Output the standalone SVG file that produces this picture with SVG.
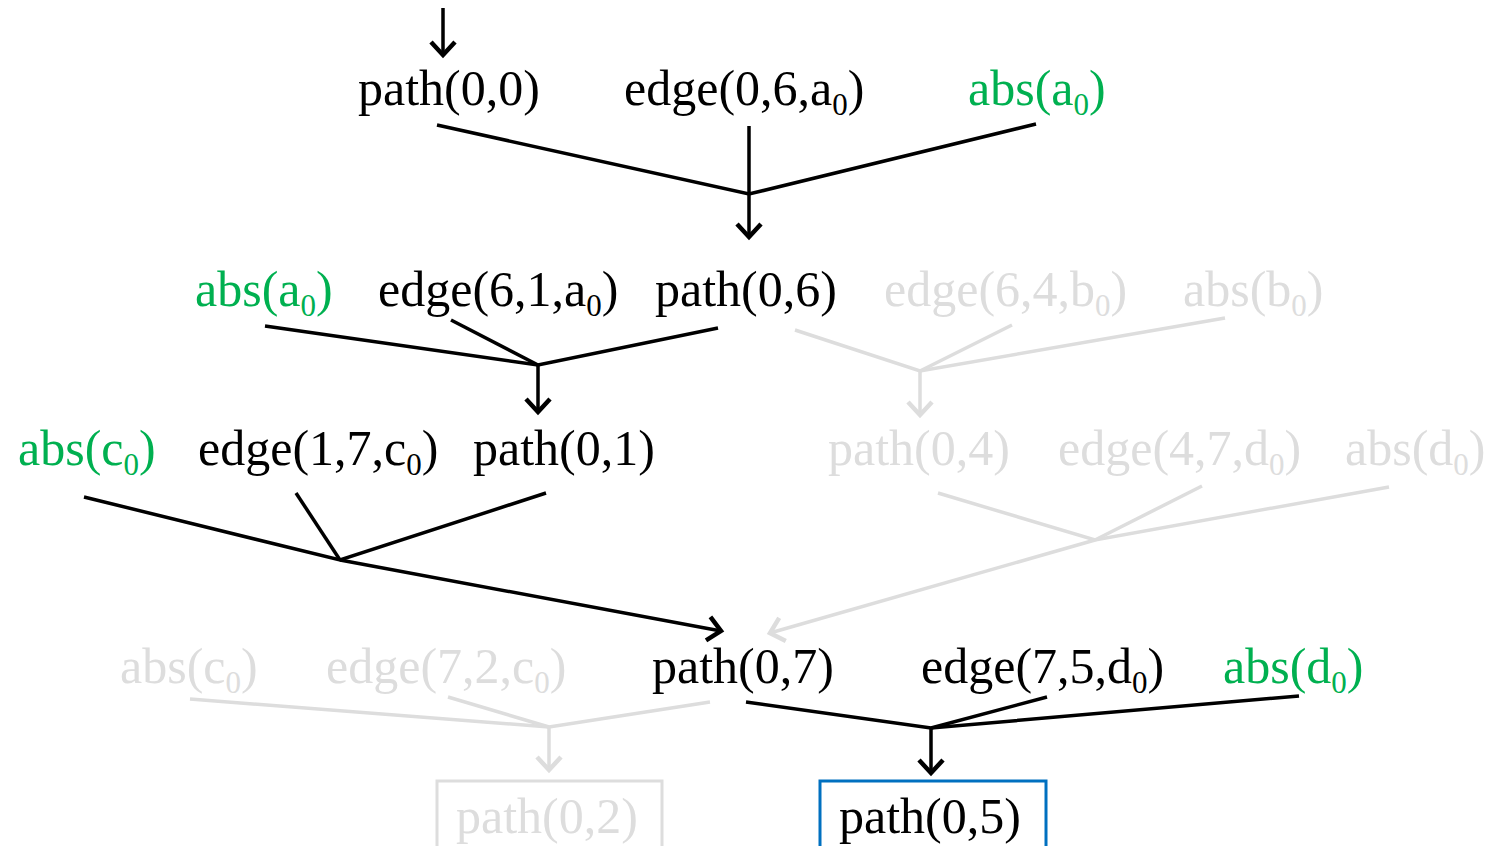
<svg xmlns="http://www.w3.org/2000/svg" width="1491" height="846" viewBox="0 0 1491 846">
<defs>
<marker id="ah" viewBox="-16 -16 20 32" markerWidth="20" markerHeight="32" refX="0" refY="0" orient="auto" markerUnits="userSpaceOnUse">
<path d="M-13,-12 L0,0 L-13,12" fill="none" stroke="#000" stroke-width="4.5"/>
</marker>
<marker id="ahg" viewBox="-16 -16 20 32" markerWidth="20" markerHeight="32" refX="0" refY="0" orient="auto" markerUnits="userSpaceOnUse">
<path d="M-13,-12 L0,0 L-13,12" fill="none" stroke="#DDDDDD" stroke-width="4.5"/>
</marker>
</defs>
<style>
text{font-family:"Liberation Serif","Times New Roman",serif;font-size:50px;fill:#000}
.g{fill:#00B050}
.l{fill:#DDDDDD}
.s{font-size:31px}
.k{stroke:#000;stroke-width:3.5;fill:none}
.q{stroke:#DDDDDD;stroke-width:3.5;fill:none}
</style>
<g id="connectors">
<line class="k" x1="443" y1="8" x2="443" y2="55" marker-end="url(#ah)"/>
<polyline class="k" points="437,125 749,194 1036,124"/>
<line class="k" x1="749" y1="126" x2="749" y2="237" marker-end="url(#ah)"/>
<polyline class="k" points="265,326 538,365 718,328"/>
<line class="k" x1="451" y1="320" x2="538" y2="365"/>
<line class="k" x1="538" y1="365" x2="538" y2="412" marker-end="url(#ah)"/>
<polyline class="q" points="795,330 920,371 1225,318"/>
<line class="q" x1="1012" y1="325" x2="920" y2="371"/>
<line class="q" x1="920" y1="371" x2="920" y2="415" marker-end="url(#ahg)"/>
<polyline class="k" points="84,497 340,560 546,493"/>
<line class="k" x1="296" y1="493" x2="340" y2="560"/>
<line class="k" x1="340" y1="560" x2="721" y2="631" marker-end="url(#ah)"/>
<polyline class="q" points="938,493 1095,540 1389,487"/>
<line class="q" x1="1202" y1="486" x2="1095" y2="540"/>
<line class="q" x1="1095" y1="540" x2="770" y2="633" marker-end="url(#ahg)"/>
<polyline class="q" points="190,699 549,727 710,702"/>
<line class="q" x1="448" y1="697" x2="549" y2="727"/>
<line class="q" x1="549" y1="727" x2="549" y2="770" marker-end="url(#ahg)"/>
<polyline class="k" points="746,702 931,728 1299,696"/>
<line class="k" x1="1047" y1="697" x2="931" y2="728"/>
<line class="k" x1="931" y1="728" x2="931" y2="773" marker-end="url(#ah)"/>
</g>
<g id="n-path00"><text x="358" y="105">path(0,0)</text></g>
<g id="n-edge06a"><text x="624" y="105">edge(0,6,a<tspan class="s" dy="10">0</tspan><tspan dy="-10">)</tspan></text></g>
<g id="n-absa-1"><text class="g" x="968" y="105">abs(a<tspan class="s" dy="10">0</tspan><tspan dy="-10">)</tspan></text></g>
<g id="n-absa-2"><text class="g" x="195" y="306">abs(a<tspan class="s" dy="10">0</tspan><tspan dy="-10">)</tspan></text></g>
<g id="n-edge61a"><text x="378" y="306">edge(6,1,a<tspan class="s" dy="10">0</tspan><tspan dy="-10">)</tspan></text></g>
<g id="n-path06"><text x="655" y="306">path(0,6)</text></g>
<g id="n-edge64b"><text class="l" x="884" y="306">edge(6,4,b<tspan class="s" dy="10">0</tspan><tspan dy="-10">)</tspan></text></g>
<g id="n-absb"><text class="l" x="1183" y="306">abs(b<tspan class="s" dy="10">0</tspan><tspan dy="-10">)</tspan></text></g>
<g id="n-absc-1"><text class="g" x="18" y="465">abs(c<tspan class="s" dy="10">0</tspan><tspan dy="-10">)</tspan></text></g>
<g id="n-edge17c"><text x="198" y="465">edge(1,7,c<tspan class="s" dy="10">0</tspan><tspan dy="-10">)</tspan></text></g>
<g id="n-path01"><text x="473" y="465">path(0,1)</text></g>
<g id="n-path04"><text class="l" x="828" y="465">path(0,4)</text></g>
<g id="n-edge47d"><text class="l" x="1058" y="465">edge(4,7,d<tspan class="s" dy="10">0</tspan><tspan dy="-10">)</tspan></text></g>
<g id="n-absd-1"><text class="l" x="1345" y="465">abs(d<tspan class="s" dy="10">0</tspan><tspan dy="-10">)</tspan></text></g>
<g id="n-absc-2"><text class="l" x="120" y="683">abs(c<tspan class="s" dy="10">0</tspan><tspan dy="-10">)</tspan></text></g>
<g id="n-edge72c"><text class="l" x="326" y="683">edge(7,2,c<tspan class="s" dy="10">0</tspan><tspan dy="-10">)</tspan></text></g>
<g id="n-path07"><text x="652" y="683">path(0,7)</text></g>
<g id="n-edge75d"><text x="921" y="683">edge(7,5,d<tspan class="s" dy="10">0</tspan><tspan dy="-10">)</tspan></text></g>
<g id="n-absd-2"><text class="g" x="1223" y="683">abs(d<tspan class="s" dy="10">0</tspan><tspan dy="-10">)</tspan></text></g>
<g id="n-path02"><rect x="437" y="781" width="225" height="80" fill="none" stroke="#DDDDDD" stroke-width="3"/><text class="l" x="456" y="833">path(0,2)</text></g>
<g id="n-path05"><rect x="820" y="781" width="226" height="80" fill="none" stroke="#0070C0" stroke-width="3"/><text x="839" y="833">path(0,5)</text></g>
</svg>
